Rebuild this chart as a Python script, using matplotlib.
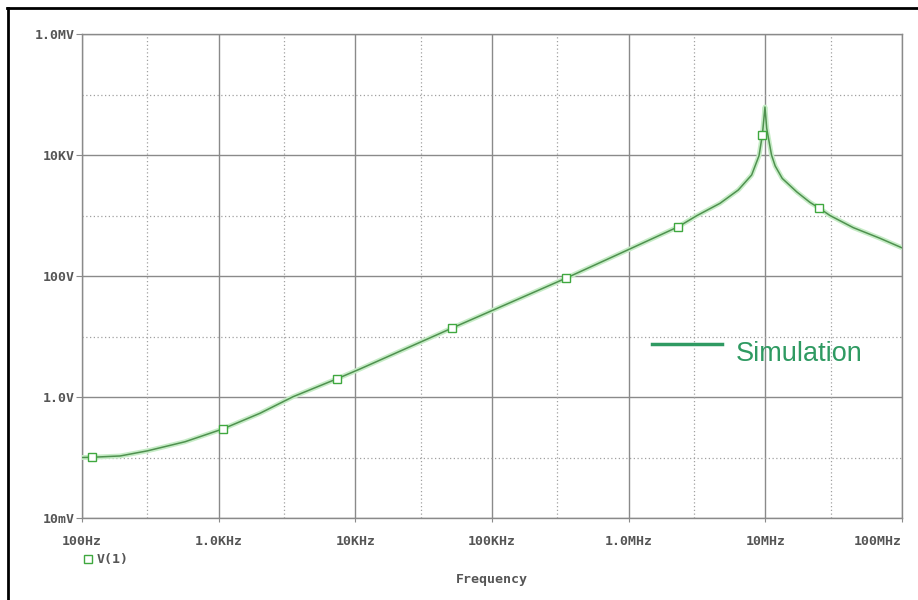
import matplotlib
matplotlib.use("Agg")
import matplotlib.pyplot as plt
from matplotlib.lines import Line2D
from matplotlib.ticker import FixedLocator, NullFormatter

# values (Hz, V)
freq = [100, 119, 190, 302, 567, 1070, 2005, 3500, 7300, 10800, 21200,
        50700, 135500, 346000, 1.0e6, 2.31e6, 3.15e6, 4.66e6, 6.34e6,
        7.94e6, 8.99e6, 9.51e6, 9.94e6, 1.023e7, 1.11e7, 1.18e7, 1.33e7,
        1.70e7, 2.12e7, 2.483e7, 2.97e7, 4.40e7, 6.90e7, 1.0e8]
volts = [0.100, 0.101, 0.106, 0.129, 0.182, 0.296, 0.538, 1.01, 1.99, 2.90,
         5.71, 13.7, 36.2, 91.6, 274, 653, 993, 1590, 2640, 4670, 9730,
         21400, 62100, 27600, 10000, 6600, 4100, 2450, 1650, 1320, 1000,
         630, 420, 292]

# the little square markers on the trace
mark_freq = [119, 1070, 7300, 50700, 346000, 2.31e6, 9.51e6, 2.483e7]
mark_volts = [0.101, 0.296, 1.99, 13.7, 91.6, 653, 21400, 1320]

xticks = [1e2, 1e3, 1e4, 1e5, 1e6, 1e7, 1e8]
xticklabels = ["100Hz", "1.0KHz", "10KHz", "100KHz", "1.0MHz", "10MHz", "100MHz"]
xminor = [3e2, 3e3, 3e4, 3e5, 3e6, 3e7]
yticks = [1e-2, 1, 1e2, 1e4, 1e6]
yticklabels = ["10mV", "1.0V", "100V", "10KV", "1.0MV"]
yminor = [1e-1, 1e1, 1e3, 1e5]

W, H = 918, 600
fig = plt.figure(figsize=(W / 100, H / 100), dpi=100)
ax = fig.add_axes([82 / W, 1 - 518 / H, 820 / W, 484 / H])

ax.set_xscale("log")
ax.set_yscale("log")
ax.set_xlim(1e2, 1e8)
ax.set_ylim(1e-2, 1e6)

gray = "#8a8a8a"
labcol = "#555555"
mono = dict(family="DejaVu Sans Mono", weight="bold", size=9.5)

# grid: solid majors, dotted minors
for v in xticks:
    ax.axvline(v, color=gray, lw=1.0, zorder=1)
for v in yticks:
    ax.axhline(v, color=gray, lw=1.0, zorder=1)
for v in xminor:
    ax.axvline(v, color="#a0a0a0", lw=0.9, ls=(0, (1, 2)), zorder=1)
for v in yminor:
    ax.axhline(v, color="#a0a0a0", lw=0.9, ls=(0, (1, 2)), zorder=1)

for s in ax.spines.values():
    s.set_color(gray)
    s.set_linewidth(1.0)

ax.xaxis.set_major_locator(FixedLocator(xticks))
ax.yaxis.set_major_locator(FixedLocator(yticks))
ax.xaxis.set_minor_locator(FixedLocator([]))
ax.yaxis.set_minor_locator(FixedLocator([]))
ax.xaxis.set_minor_formatter(NullFormatter())
ax.yaxis.set_minor_formatter(NullFormatter())
ax.set_xticklabels(xticklabels, fontdict=mono, color=labcol)
ax.set_yticklabels(yticklabels, fontdict=mono, color=labcol)
ax.get_xticklabels()[-1].set_ha("right")
ax.tick_params(axis="x", length=3, color=gray, pad=9)
ax.tick_params(axis="y", length=4, color=gray, pad=1)

# trace: soft green halo plus darker core
ax.plot(freq, volts, color="#c6ecc6", lw=3.5, solid_capstyle="round", zorder=3)
ax.plot(freq, volts, color="#4f914f", lw=1.1, zorder=4)
ax.plot(mark_freq, mark_volts, ls="none", marker="s", ms=6,
        mfc="white", mec="#3fa83f", mew=1.0, zorder=5)

# PSpice style legend and axis name under the plot
fig.add_artist(Line2D([88 / W], [1 - 559 / H], marker="s", ms=5.5,
                      mfc="white", mec="#3fa83f", mew=1.0, ls="none"))
fig.text(97 / W, 1 - 559 / H, "V(1)", ha="left", va="center",
         color=labcol, **mono)
fig.text(492 / W, 1 - 580 / H, "Frequency", ha="center", va="center",
         color=labcol, **mono)

# added annotation
green = "#2f9a62"
fig.add_artist(Line2D([652 / W, 722 / W], [1 - 344 / H, 1 - 344 / H],
                      color=green, lw=2.5))
fig.text(736 / W, 1 - 354 / H, "Simulation", ha="left", va="center",
         color=green, family="Liberation Sans", size=19.5)

# black frame on top and left edge
fig.add_artist(Line2D([7 / W, 1.0], [1 - 8 / H, 1 - 8 / H], color="black", lw=2))
fig.add_artist(Line2D([8 / W, 8 / W], [0, 1 - 8 / H], color="black", lw=2))

fig.savefig("out.png", dpi=100)
